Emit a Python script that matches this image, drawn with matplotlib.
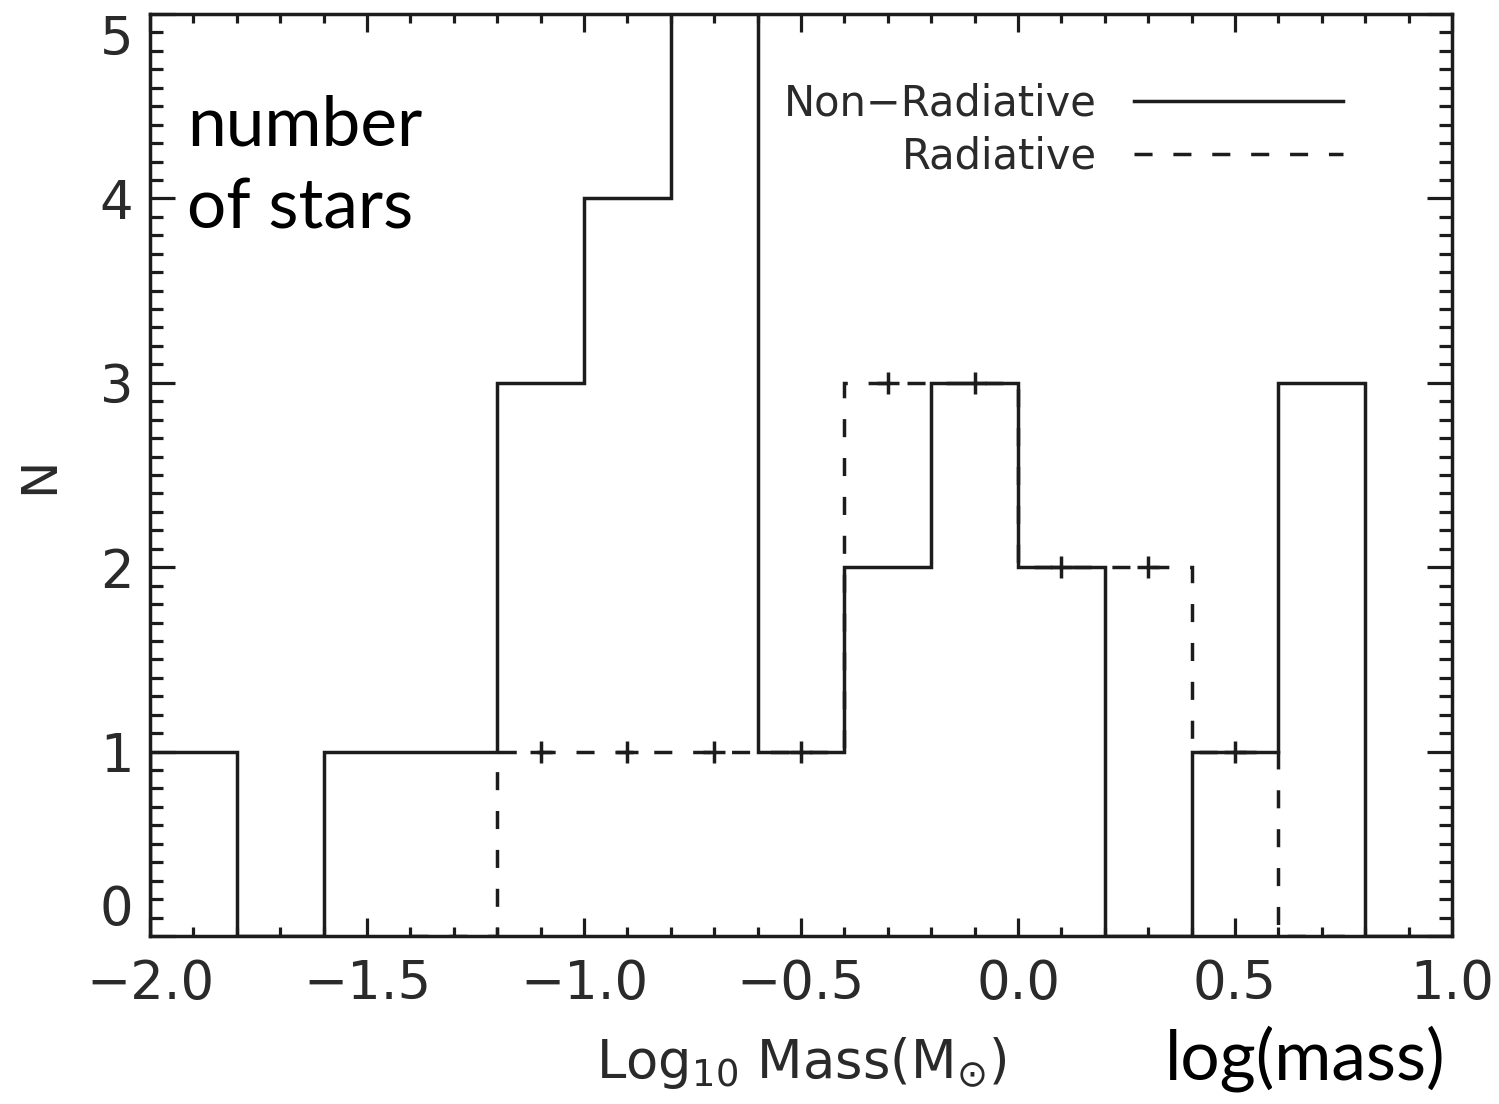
import numpy as np
import matplotlib
matplotlib.use("Agg")
import matplotlib.pyplot as plt
from matplotlib.ticker import MultipleLocator

plt.rcParams['font.family'] = ['DejaVu Sans']
plt.rcParams['mathtext.fontset'] = 'dejavusans'

# Histogram bins in log10 mass (solar units), width 0.2
bin_edges = [-2.0, -1.8, -1.6, -1.4, -1.2, -1.0, -0.8, -0.6, -0.4, -0.2,
             0.0, 0.2, 0.4, 0.6, 0.8, 1.0]
non_radiative = [1, 0, 1, 1, 3, 4, 6, 1, 2, 3, 2, 0, 1, 3, 0]

rad_edges = [-1.4, -1.2, -1.0, -0.8, -0.6, -0.4, -0.2, 0.0, 0.2, 0.4, 0.6, 0.8]
radiative = [0, 1, 1, 1, 1, 3, 3, 2, 2, 1, 0]

ink = '#1c1c1c'
txt = '#2a2a2a'
lw = 2.5

fig = plt.figure(figsize=(14.99, 11.04), dpi=100)
ax = fig.add_axes([150 / 1499, 1 - 936 / 1104, 1302 / 1499, 922 / 1104])

ax.stairs(non_radiative, bin_edges, color=ink, lw=lw, label='Non\u2212Radiative')
ax.stairs(radiative, rad_edges, color=ink, lw=lw,
          linestyle=(0, (5.2, 6.0)), label='Radiative')

# plus signs at the centre of every occupied radiative bin
rad = np.array(radiative)
centers = (np.array(rad_edges[:-1]) + np.array(rad_edges[1:])) / 2
ax.plot(centers[rad > 0], rad[rad > 0], '+', color=ink, ms=16, mew=2.5,
        linestyle='none')

ax.set_xlim(-2.0, 1.0)
ax.set_ylim(0, 5)
ax.set_xticks(np.arange(-2.0, 1.01, 0.5))
ax.set_yticks(range(0, 6))
ax.xaxis.set_minor_locator(MultipleLocator(0.1))
ax.yaxis.set_minor_locator(MultipleLocator(0.1))
ax.xaxis.set_major_formatter(plt.FuncFormatter(lambda v, p: f'{v:.1f}'.replace('-', '\u2212')))

ax.tick_params(which='both', direction='in', top=True, right=True,
               color=ink, width=2.3, labelcolor=txt, labelsize=38)
ax.tick_params(axis='x', which='major', length=13, pad=16)
ax.tick_params(axis='x', which='minor', length=6.5)
ax.tick_params(axis='y', which='major', length=18, pad=12)
ax.tick_params(axis='y', which='minor', length=9.5)
for sp in ax.spines.values():
    sp.set_linewidth(lw)
    sp.set_color(ink)

# keep the end labels of the y axis inside the frame height
yt = ax.yaxis.get_major_ticks()
yt[-1].label1.set_verticalalignment('top')
yt[0].label1.set_verticalalignment('bottom')

ax.set_xlabel(r'Log$_{10}$ Mass(M$_{\odot}$)', fontsize=38, color=txt,
              labelpad=18)
ax.set_ylabel('N', fontsize=36, color=txt, labelpad=26)

ax.legend(loc='upper right', bbox_to_anchor=(0.916, 0.926), frameon=False,
          markerfirst=False, fontsize=30, handlelength=5.0,
          handletextpad=0.9, labelspacing=0.28, borderpad=0,
          borderaxespad=0, labelcolor=txt)

fig.text(187 / 1499, 1 - 95 / 1104, 'number\nof stars', family='Lato',
         fontsize=50, va='top', ha='left', color='black', linespacing=1.38)
fig.text(1165 / 1499, 1 - 1080 / 1104, 'log(mass)', family='Lato',
         fontsize=50, va='baseline', ha='left', color='black')

fig.savefig('out.png', dpi=100)
